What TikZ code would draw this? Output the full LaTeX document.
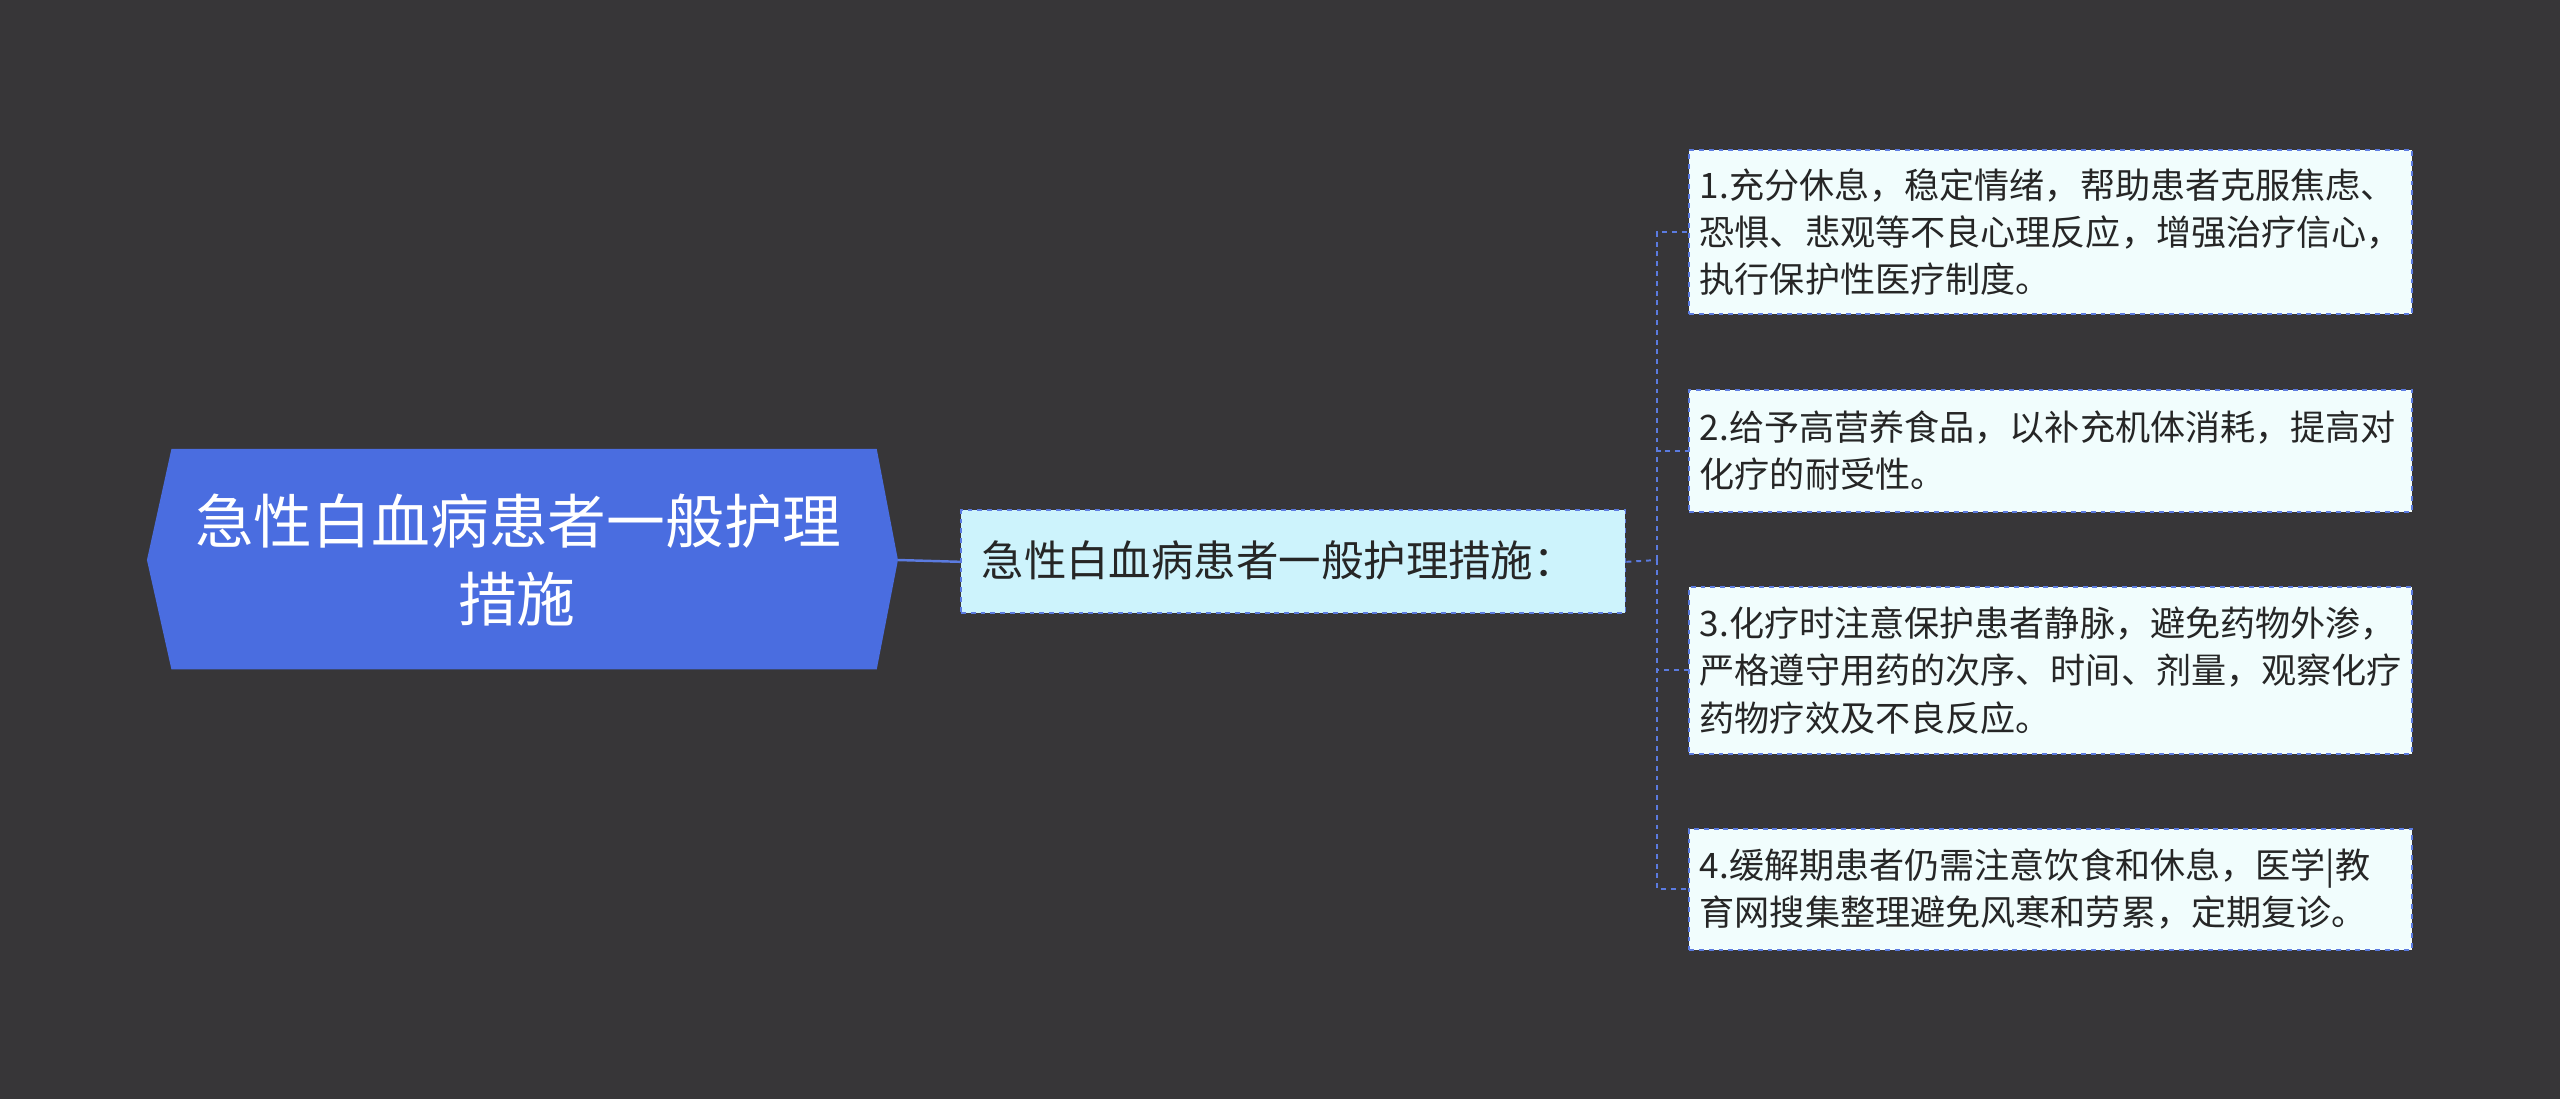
\documentclass[tikz,border=0pt]{standalone}
\usepackage{fontspec}
\setmainfont{Noto Sans CJK SC}
\begin{document}
\begin{tikzpicture}[x=1pt,y=-1pt,
leaf/.style={draw=blueline,dashed,line width=1.2pt,fill=leaffill,minimum width=443pt,align=left,text width=430pt,inner sep=0pt,font=\fontsize{21.5}{29}\selectfont,text=black!85,anchor=north west},
conn/.style={draw=blueline,dashed,line width=1.2pt}]
\definecolor{bg}{HTML}{373638}
\definecolor{rootc}{HTML}{4A6DE0}
\definecolor{blueline}{HTML}{5B7BE0}
\definecolor{midfill}{HTML}{CDF3FC}
\definecolor{leaffill}{HTML}{F1FDFD}
\fill[bg] (0,0) rectangle (1568,673);
\useasboundingbox (0,0) rectangle (1568,673);
\fill[rootc] (90,343) -- (105,275) -- (537,275) -- (550,343) -- (537,410) -- (105,410) -- cycle;
\node[text=white,align=left,font=\fontsize{36}{48}\selectfont,anchor=west] (root) at (116,343) {急性白血病患者一般护理\\\hspace*{161pt}措施};
\coordinate (rr) at (550,343);
\node[draw=blueline,dashed,line width=1.2pt,fill=midfill,minimum width=407pt,minimum height=63pt,anchor=north west,inner sep=0pt] (mid) at (588,312) {};
\node[anchor=west,font=\fontsize{26}{30}\selectfont,text=black!85,inner sep=0pt] (midt) at (601,343) {急性白血病患者一般护理措施：};
\draw[blueline,line width=1.5pt] (rr) -- (mid.west);
\node[leaf,minimum height=101pt] (l1) at (1034,91) {1.充分休息，稳定情绪，帮助患者克服焦虑、\\恐惧、悲观等不良心理反应，增强治疗信心，\\执行保护性医疗制度。};
\node[leaf,minimum height=75pt] (l2) at (1034,238) {2.给予高营养食品，以补充机体消耗，提高对\\化疗的耐受性。};
\node[leaf,minimum height=102pt] (l3) at (1034,359) {3.化疗时注意保护患者静脉，避免药物外渗，\\严格遵守用药的次序、时间、剂量，观察化疗\\药物疗效及不良反应。};
\node[leaf,minimum height=74pt] (l4) at (1034,507) {4.缓解期患者仍需注意饮食和休息，医学|教\\育网搜集整理避免风寒和劳累，定期复诊。};
\coordinate (j) at (1015,343);
\draw[conn] (mid.east) -- (j);
\foreach \n in {l1,l2,l3,l4} \draw[conn] (j) |- (\n.west);
\end{tikzpicture}
\end{document}
